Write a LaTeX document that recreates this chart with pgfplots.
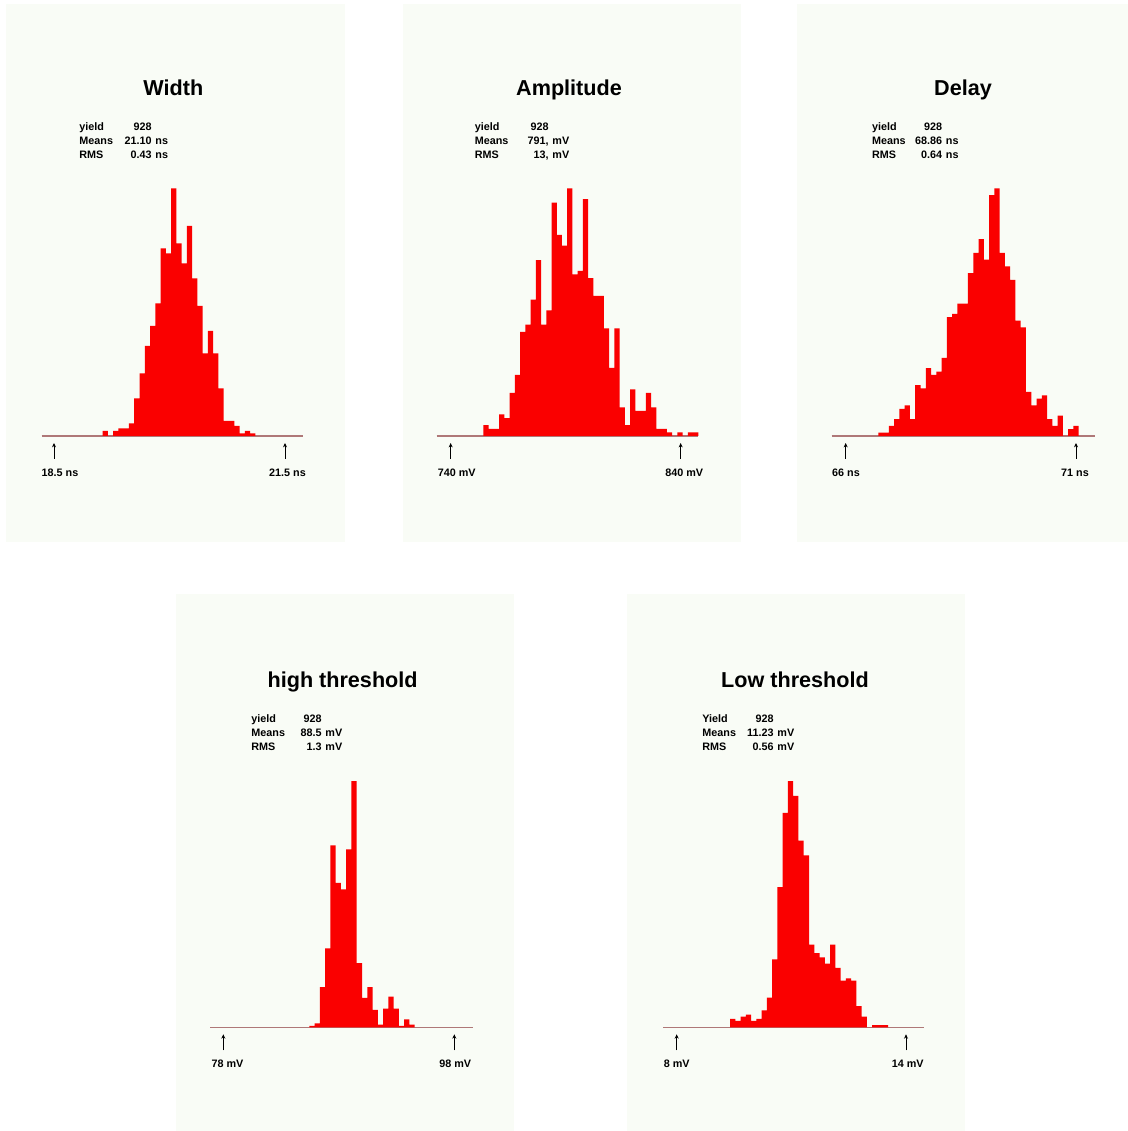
\documentclass[border=0pt]{standalone}
\usepackage{pgfplots}
\pgfplotsset{compat=1.18}
\usepackage{fontspec}
\setmainfont{Liberation Sans}
\usetikzlibrary{arrows.meta}
\definecolor{panelbg}{RGB}{249,252,246}
\definecolor{basecol}{RGB}{175,120,120}
\definecolor{barred}{RGB}{250,0,0}
\pgfplotsset{histo/.style={anchor=south west, scale only axis, axis lines=none, ticks=none, ymin=0, clip=false}}
\tikzset{small/.style={font=\fontsize{5.4}{6}\selectfont\bfseries, inner sep=0pt},
         ttl/.style={font=\fontsize{10.8}{12}\selectfont\bfseries, inner sep=0pt, anchor=base},
         arr/.style={line width=0.5pt, -{Stealth[length=2.2pt,width=2pt]}}}
\newcommand{\statrow}[6]{%
  \node[small, anchor=base west] at (#1,#3) {#4};
  \node[small, anchor=base east] at (#2,#3) {#5};
  \node[small, anchor=base west] at (#2,#3) {\ #6};}
\begin{document}
\begin{tikzpicture}
\fill[white] (0,0) rectangle (564pt,565.5pt);
\begin{scope}[x=0.5pt,y=-0.5pt,shift={(0pt,565.5pt)}]
  \fill[panelbg] (6,4) rectangle (345,542);
  \fill[panelbg] (403,4) rectangle (741,542);
  \fill[panelbg] (797,4) rectangle (1128,542);
  \fill[panelbg] (176,594) rectangle (514,1131);
  \fill[panelbg] (627,594) rectangle (965,1131);
  \draw[basecol, line width=0.6pt] (41.67,436) -- (302.67,436);
  \draw[basecol, line width=0.6pt] (436.67,436) -- (698.33,436);
  \draw[basecol, line width=0.6pt] (831.67,436) -- (1095,436);
  \draw[basecol, line width=0.6pt] (210,1027.3) -- (472.67,1027.3);
  \draw[basecol, line width=0.6pt] (663.33,1027.3) -- (924.33,1027.3);
\end{scope}

% Width
\begin{axis}[histo, at={(20.835pt,347.5pt)}, width=130.5pt, height=123.85pt,
  xmin=18.34, xmax=21.729, ymax=99]
\addplot[fill=barred, draw=none, const plot mark left]
  table[row sep=\\, x expr={19.132+0.06835*\coordindex}, y=c]
  {c\\ 2\\ 0\\ 2\\ 3\\ 3\\ 5\\ 15\\ 25\\ 36\\ 44\\ 53\\ 75\\ 73\\ 99\\ 77\\ 69\\ 84\\ 63\\ 52\\ 33\\ 42\\ 33\\ 19\\ 6\\ 6\\ 4\\ 1\\ 2\\ 1\\ 1\\} \closedcycle;
\end{axis}

% Amplitude
\begin{axis}[histo, at={(218.335pt,347.5pt)}, width=130.83pt, height=123.85pt,
  xmin=733.91, xmax=847.68, ymax=69]
\addplot[fill=barred, draw=none, const plot mark left]
  table[row sep=\\, x expr={754.20+2.28*\coordindex}, y=c]
  {c\\ 3\\ 2\\ 2\\ 6\\ 5\\ 12\\ 17\\ 29\\ 31\\ 38\\ 49\\ 31\\ 35\\ 65\\ 56\\ 53\\ 69\\ 45\\ 46\\ 66\\ 44\\ 39\\ 39\\ 30\\ 19\\ 30\\ 8\\ 3\\ 13\\ 7\\ 7\\ 12\\ 8\\ 2\\ 2\\ 1\\ 0\\ 1\\ 0\\ 1\\ 1\\ 1\\} \closedcycle;
\end{axis}

% Delay
\begin{axis}[histo, at={(415.835pt,347.5pt)}, width=131.67pt, height=123.85pt,
  xmin=65.696, xmax=71.413, ymax=73]
\addplot[fill=barred, draw=none, const plot mark left]
  table[row sep=\\, x expr={66.709+0.11447*\coordindex}, y=c]
  {c\\ 1\\ 1\\ 3\\ 5\\ 8\\ 9\\ 5\\ 15\\ 14\\ 20\\ 18\\ 19\\ 23\\ 35\\ 36\\ 39\\ 39\\ 48\\ 54\\ 58\\ 52\\ 71\\ 73\\ 54\\ 50\\ 46\\ 34\\ 32\\ 13\\ 9\\ 11\\ 12\\ 5\\ 3\\ 6\\ 0\\ 2\\ 3\\ 3\\} \closedcycle;
\end{axis}

% high threshold
\begin{axis}[histo, at={(105pt,51.85pt)}, width=131.33pt, height=123.1pt,
  xmin=76.846, xmax=99.587, ymax=184]
\addplot[fill=barred, draw=none, const plot mark left]
  table[row sep=\\, x expr={85.446+0.456*\coordindex}, y=c]
  {c\\ 1\\ 3\\ 30\\ 59\\ 136\\ 108\\ 103\\ 133\\ 184\\ 48\\ 22\\ 30\\ 13\\ 2\\ 14\\ 23\\ 14\\ 1\\ 6\\ 2\\ 2\\} \closedcycle;
\end{axis}

% Low threshold
\begin{axis}[histo, at={(331.665pt,51.85pt)}, width=130.5pt, height=123.1pt,
  xmin=7.651, xmax=14.480, ymax=116]
\addplot[fill=barred, draw=none, const plot mark left]
  table[row sep=\\, x expr={9.3953+0.1378*\coordindex}, y=c]
  {c\\ 4\\ 3\\ 5\\ 6\\ 3\\ 4\\ 8\\ 14\\ 32\\ 66\\ 101\\ 116\\ 109\\ 88\\ 81\\ 39\\ 35\\ 33\\ 30\\ 39\\ 28\\ 22\\ 23\\ 22\\ 10\\ 5\\ 0\\ 1\\ 1\\ 1\\ 1\\} \closedcycle;
\end{axis}

\begin{scope}[x=0.5pt,y=-0.5pt,shift={(0pt,565.5pt)}]
  % titles
  \node[ttl] at (173.3,96) {Width};
  \node[ttl] at (569,96) {Amplitude};
  \node[ttl] at (963,96) {Delay};
  \node[ttl] at (342.6,688) {high threshold};
  \node[ttl] at (795,688) {Low threshold};
  % stats
  \statrow{79}{152}{131}{yield}{928}{}
  \statrow{79}{152}{145}{Means}{21.10}{ns}
  \statrow{79}{152}{159}{RMS}{0.43}{ns}
  \statrow{474.4}{549}{131}{yield}{928}{}
  \statrow{474.4}{549}{145}{Means}{791,}{mV}
  \statrow{474.4}{549}{159}{RMS}{13,}{mV}
  \statrow{871.7}{942.5}{131}{yield}{928}{}
  \statrow{871.7}{942.5}{145}{Means}{68.86}{ns}
  \statrow{871.7}{942.5}{159}{RMS}{0.64}{ns}
  \statrow{251}{322}{723}{yield}{928}{}
  \statrow{251}{322}{737}{Means}{88.5}{mV}
  \statrow{251}{322}{751}{RMS}{1.3}{mV}
  \statrow{702}{774}{723}{Yield}{928}{}
  \statrow{702}{774}{737}{Means}{11.23}{mV}
  \statrow{702}{774}{751}{RMS}{0.56}{mV}
  % arrows
  \foreach \ax in {54,285,450.67,680.67,845.67,1076}
    \draw[arr] (\ax,459) -- (\ax,443);
  \foreach \ax in {223.33,454.33,676.67,906}
    \draw[arr] (\ax,1050.3) -- (\ax,1034.3);
  % arrow labels
  \node[small, anchor=base] at (60,477) {18.5 ns};
  \node[small, anchor=base] at (287.5,477) {21.5 ns};
  \node[small, anchor=base] at (456.7,477) {740 mV};
  \node[small, anchor=base] at (684.2,477) {840 mV};
  \node[small, anchor=base] at (846,477) {66 ns};
  \node[small, anchor=base] at (1075,477) {71 ns};
  \node[small, anchor=base] at (227.5,1068) {78 mV};
  \node[small, anchor=base] at (455.3,1068) {98 mV};
  \node[small, anchor=base] at (676.8,1068) {8 mV};
  \node[small, anchor=base] at (907.7,1068) {14 mV};
\end{scope}
\pgfresetboundingbox
\useasboundingbox (0,0) rectangle (564pt,565.5pt);
\end{tikzpicture}
\end{document}
